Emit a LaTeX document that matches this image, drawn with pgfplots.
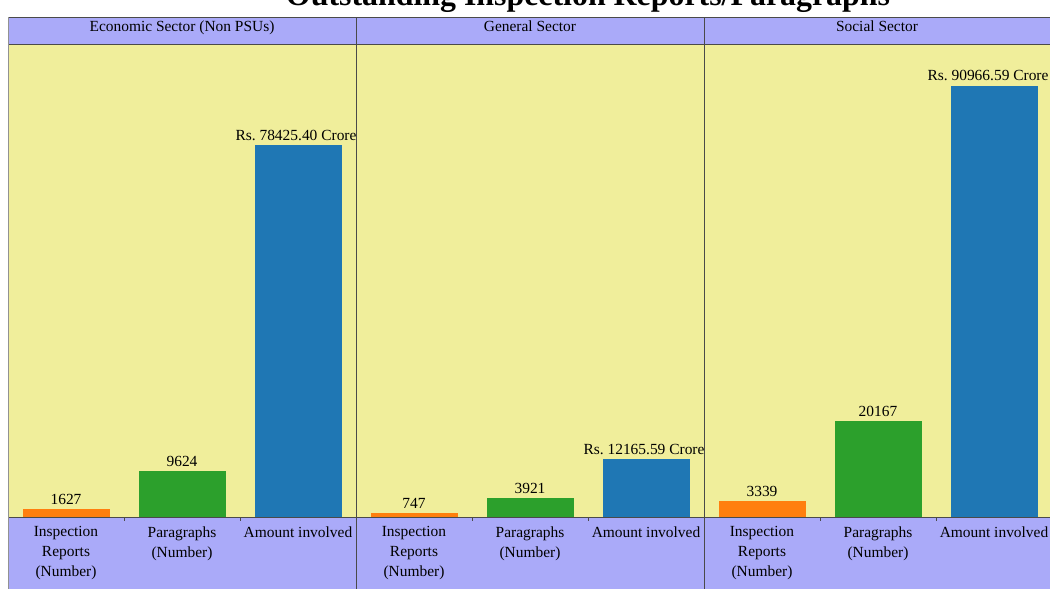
\documentclass[border=0pt]{standalone}
\usepackage{fontspec}
\setmainfont{Liberation Serif}
\usepackage{pgfplots}
\pgfplotsset{compat=1.18}

\definecolor{bgyellow}{HTML}{F0EE9B}
\definecolor{hdr}{HTML}{AAAAF9}
\definecolor{edge}{HTML}{4A4A4A}
\definecolor{c1}{HTML}{FF7F0E}
\definecolor{c2}{HTML}{2CA02C}
\definecolor{c3}{HTML}{1F77B4}

\pgfplotsset{
  panel/.style={
    scale only axis,
    width=348bp, height=473bp,
    anchor=south west,
    xmin=-0.5, xmax=2.5,
    ymin=0, ymax=99800,
    ybar, bar width=0.75, bar shift=0pt,
    axis y line=none,
    axis x line*=bottom,
    axis line style={edge, line width=0.8pt, -},
    xtick={0,1,2},
    xticklabels={Inspection\\Reports\\(Number), Paragraphs\\(Number), Amount involved},
    major tick length=0pt,
    minor xtick={0.5,1.5},
    minor tick length=4bp,
    tick align=outside,
    minor tick style={edge, line width=0.6pt},
    x tick label style={align=center, anchor=north, yshift=-6bp,
      font=\fontsize{15.5}{20}\selectfont},
    nodes near coords style={font=\fontsize{15.5}{18}\selectfont, text=black, inner sep=4.5bp},
    clip=false,
  }
}

\begin{document}
\begin{tikzpicture}[x=1bp, y=1bp]
% backgrounds
\fill[bgyellow] (8,72) rectangle (1050,545);
\fill[hdr] (8,545) rectangle (1050,572);
\fill[hdr] (8,0) rectangle (1050,72);

\begin{axis}[panel, at={(8bp,72bp)}]
\addplot[fill=c1, draw=none, nodes near coords={1627}] coordinates {(0,1627)};
\addplot[fill=c2, draw=none, nodes near coords={9624}] coordinates {(1,9624)};
\addplot[fill=c3, draw=none, nodes near coords={Rs.\ 78425.40 Crore},
  every node near coord/.append style={xshift=-2bp}] coordinates {(2,78425.40)};
\end{axis}

\begin{axis}[panel, at={(356bp,72bp)}]
\addplot[fill=c1, draw=none, nodes near coords={747}] coordinates {(0,747)};
\addplot[fill=c2, draw=none, nodes near coords={3921}] coordinates {(1,3921)};
\addplot[fill=c3, draw=none, nodes near coords={Rs.\ 12165.59 Crore},
  every node near coord/.append style={xshift=-2bp}] coordinates {(2,12165.59)};
\end{axis}

\begin{axis}[panel, at={(704bp,72bp)}]
\addplot[fill=c1, draw=none, nodes near coords={3339}] coordinates {(0,3339)};
\addplot[fill=c2, draw=none, nodes near coords={20167}] coordinates {(1,20167)};
\addplot[fill=c3, draw=none, nodes near coords={Rs.\ 90966.59 Crore},
  every node near coord/.append style={xshift=-6bp}] coordinates {(2,90966.59)};
\end{axis}

% frame lines
\draw[edge, line width=0.8pt] (8,572) -- (1050,572);
\draw[edge, line width=0.8pt] (8,545) -- (1050,545);
\draw[edge!60, line width=0.6pt] (8,0) -- (8,572);
\draw[edge, line width=0.8pt] (356,0) -- (356,572);
\draw[edge, line width=0.8pt] (704,0) -- (704,572);

% headers
\node[font=\fontsize{15.5}{18}\selectfont, anchor=base] at (182,557) {Economic Sector (Non PSUs)};
\node[font=\fontsize{15.5}{18}\selectfont, anchor=base] at (530,557) {General Sector};
\node[font=\fontsize{15.5}{18}\selectfont, anchor=base] at (877,557) {Social Sector};

% title (cropped at the top like the reference)
\node[font=\fontsize{32}{35}\selectfont\bfseries, anchor=base] at (588,583) {Outstanding Inspection Reports/Paragraphs};

\pgfresetboundingbox
\useasboundingbox (0,0) rectangle (1050,589);
\end{tikzpicture}
\end{document}
